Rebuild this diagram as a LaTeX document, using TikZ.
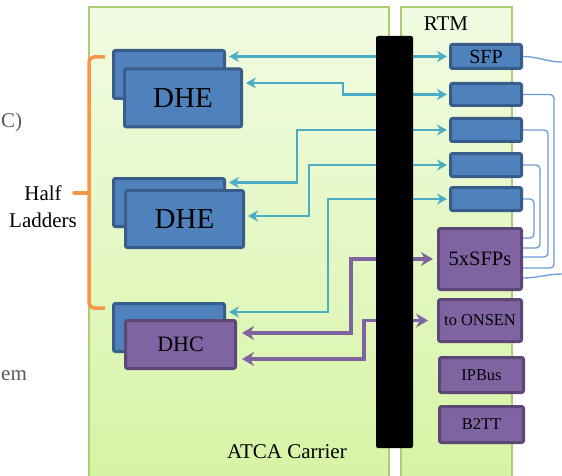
\documentclass[tikz,border=0pt]{standalone}
\usepackage{fontspec}
\setmainfont{Liberation Serif}
\usetikzlibrary{arrows.meta}
\definecolor{panelborder}{HTML}{A9CF72}
\definecolor{paneltop}{HTML}{F2FBE3}
\definecolor{panelbot}{HTML}{D6F4A4}
\definecolor{dheblue}{HTML}{4F81BD}
\definecolor{dheedge}{HTML}{385D8A}
\definecolor{dhcpurple}{HTML}{8064A2}
\definecolor{dhcedge}{HTML}{5C4776}
\definecolor{linkcyan}{HTML}{4BACC6}
\definecolor{cablecol}{HTML}{6A9BD8}
\definecolor{bracecol}{HTML}{F79646}
\definecolor{cuttext}{HTML}{595959}
\tikzset{
	board/.style    = {draw=panelborder, line width=1.2pt, top color=paneltop,
		bottom color=panelbot},
	dhe/.style      = {draw=dheedge, fill=dheblue, line width=3pt, rounded corners=2pt,
		inner sep=0pt, font=\fontsize{29}{32}\selectfont},
	dhc/.style      = {draw=dhcedge, fill=dhcpurple, line width=3pt, rounded corners=2pt,
		inner sep=0pt, font=\fontsize{22}{24}\selectfont},
	sfp/.style      = {dhe, minimum width=71pt, font=\fontsize{20}{22}\selectfont},
	link/.style     = {draw=linkcyan, line width=2.2pt, <->, shorten <=3pt, shorten >=2pt},
	fatlink/.style  = {draw=dhcpurple, line width=3.5pt,
		{Stealth[length=12pt,width=14pt]}-{Stealth[length=12pt,width=14pt]}},
	cable/.style    = {draw=cablecol, line width=1.3pt, rounded corners=4pt}
}
\newcommand{\labelfont}{\fontsize{21}{27}\selectfont}

\begin{document}
\begin{tikzpicture}[x=1pt, y=-1pt, >={Stealth[length=10pt,width=11pt]}]
	\useasboundingbox (0,0) rectangle (562,476);
	% boards
	\draw[board] (89,7) rectangle (389,482);
	\draw[board] (401,7) rectangle (512,482);
	\draw
	node at (287,452)[font=\labelfont] (atca) {ATCA Carrier}
	node at (446,24)[font=\labelfont] (rtm) {RTM}
	node at (43,207)[font=\labelfont, align=center] (hl) {Half\\Ladders}
	node at (1,122)[anchor=west, inner sep=0pt, font=\labelfont, text=cuttext] (cut1) {C)}
	node at (1,376)[anchor=west, inner sep=0pt, font=\labelfont, text=cuttext] (cut2) {em};
	
	% half ladder brace
	\draw[bracecol, line width=3.5pt, rounded corners=5pt] (105,57) -| (89,308) -- (105,308);
	\draw[bracecol, line width=3.5pt, line cap=round] (89,193) -- (74,193);
	
	% front end boards
	\draw
	node at (169,74.5)[dhe, minimum width=111pt, minimum height=48pt] (dhe1b) {}
	node at (183,98)[dhe, minimum width=117pt, minimum height=58pt] (dhe1f) {DHE}
	node at (169,202.5)[dhe, minimum width=111pt, minimum height=48pt] (dhe2b) {}
	node at (184.5,219)[dhe, minimum width=118pt, minimum height=57pt] (dhe2f) {DHE}
	node at (169,327.5)[dhe, minimum width=111pt, minimum height=48pt] (dhcb) {}
	node at (180.5,344.5)[dhc, minimum width=110pt, minimum height=48pt] (dhcf) {DHC};
	
	% rtm side
	\draw
	node at (486,56.5)[sfp, minimum height=24pt] (sfp1) {SFP}
	node at (486,94.5)[sfp, minimum height=22pt] (sfp2) {}
	node at (486,130)[sfp, minimum height=23pt] (sfp3) {}
	node at (486,165)[sfp, minimum height=23pt] (sfp4) {}
	node at (486,199)[sfp, minimum height=23pt] (sfp5) {}
	node at (480,259)[dhc, minimum width=83pt, minimum height=61pt,
		font=\fontsize{20.5}{22}\selectfont] (sfps) {5xSFPs}
	node at (480,320.5)[dhc, minimum width=83pt, minimum height=42pt,
		font=\fontsize{16.4}{18}\selectfont] (onsen) {to ONSEN}
	node at (481.5,375)[dhc, minimum width=84pt, minimum height=35pt,
		font=\fontsize{16.4}{18}\selectfont] (ipbus) {IPBus}
	node at (481.5,424.5)[dhc, minimum width=84pt, minimum height=36pt,
		font=\fontsize{16.4}{18}\selectfont] (b2tt) {B2TT};
	
	% optical links
	\draw[link] (dhe1b.east |- sfp1) -- (sfp1);
	\draw[link] ([yshift=15pt]dhe1f.east) -| (sfp2 -| 343,0) -- (sfp2);
	\draw[link] ([yshift=20pt]dhe2b.east) -| (sfp3 -| 297,0) -- (sfp3);
	\draw[link] ([yshift=3pt]dhe2f.east) -| (sfp4 -| 309,0) -- (sfp4);
	\draw[link] ([yshift=15.5pt]dhcb.east) -| (sfp5 -| 328,0) -- (sfp5);
	\draw[fatlink, shorten <=5pt, shorten >=4pt] ([yshift=11.5pt]dhcf.east) -| (sfps -| 351,0) -- (sfps);
	\draw[fatlink, shorten <=5pt, shorten >=9pt] ([yshift=-14.5pt]dhcf.east) -| (onsen -| 364,0) -- (onsen);
	
	% backplane
	\fill[black, rounded corners=2pt] (376,36) rectangle (413,448);
	
	% fibres on the rtm
	\coordinate (in2) at ([yshift=-9pt]sfps.east);
	\coordinate (in3) at ([yshift=2pt]sfps.east);
	\coordinate (in4) at ([yshift=11pt]sfps.east);
	\coordinate (in5) at ([yshift=21pt]sfps.east);
	\coordinate (out1) at (562,62);
	\coordinate (out2) at (562,274);
	\draw[cable] (sfp1.east) to[out=0, in=180] (out1);
	\draw[cable] (sfp2.east) -| (554,0 |- in2) -- (in2);
	\draw[cable] (sfp3.east) -| (548,0 |- in3) -- (in3);
	\draw[cable] (sfp4.east) -| (540,0 |- in4) -- (in4);
	\draw[cable] (sfp5.east) -| (534,0 |- in5) -- (in5);
	\draw[cable] ([yshift=-19pt]sfps.east) to[out=0, in=180] (out2);
\end{tikzpicture}
\end{document}
